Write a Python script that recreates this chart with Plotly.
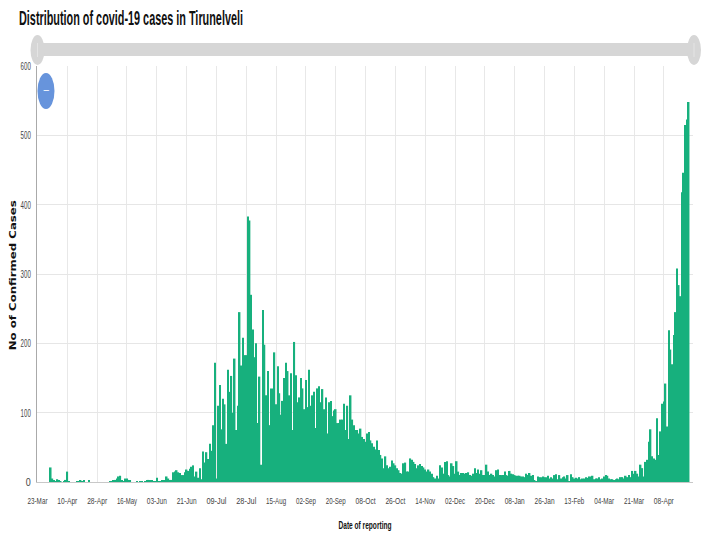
import plotly.graph_objects as go

TITLE = "Distribution of covid-19 cases in Tirunelveli"
X_TITLE = "Date of reporting"
Y_TITLE = "No of Confirmed Cases"
tick_labels = ["23-Mar","10-Apr","28-Apr","16-May","03-Jun","21-Jun","09-Jul","28-Jul","15-Aug","02-Sep","20-Sep",
               "08-Oct","26-Oct","14-Nov","02-Dec","20-Dec","08-Jan","26-Jan","13-Feb","04-Mar","21-Mar","08-Apr"]

cases_early = [0,0,0,0,0,0,0,0,21,5,3,1,4,2,1,0,1,3,15,1,0,0,0,0,1,1,2,1,2,0,0,2,0,0,0,0,0,0,0,0,0,0,0,0,
               1,1,2,3,5,8,9,3,1,5,5,3,2,0,0,0,1,0,1,1,0,1,2,3,3,2,1,1,6,1,1,2,2,3,8,5,3,3,14,15,17,14,13,10,10,14,18,16,19,22]
cases_first_wave = [24,8,15,6,20,4,44,28,43,33,55,45,82,172,5,110,140,76,120,112,55,162,130,153,100,178,75,110,245,168,
                    208,183,183,383,377,270,220,180,200,85,152,25,248,198,125,160,82,135,135,187,112,167,128,97,117,150,
                    172,160,125,157,75,202,154,115,122,150,135,105,147,108,162,110,125,130,78,135,138,115,134,105,122,70,
                    115,117,95,103,105,85,85,90,90,113,75,110,62,125,90,82,75,75,70,77,65,62,58,70,72]
cases_decline = [60,56,51,47,60,46,39,34,20,37,24,20,22,31,27,24,20,17,13,12,27,28,15,15,34,32,29,26,20,24,26,23,21,18,
                 15,18,15,12,7,5,9,5,24,21,12,29,30,10,8,
                 27,23,12,30,15,10,13,13,12,13,14,10,9,12,20,13,18,12,17,10,10,25,15,10,12,10,8,17,18,10,10,10,15,10,9,
                 16,12,11,10,9,9,9,8,8,7,12,10,13,9,10,2,1,8,7,7,8,7,7,9,5,7,5,10,11]
cases_trough = [4,10,5,7,8,5,10,1,11,7,5,6,5,7,4,5,5,7,6,8,8,9,4,5,5,7,4,5,8,10,9,5,4,4,3,4,5,4,7,7,5,9,7,10,7,16,12,16]
cases_second_wave = [12,8,25,20,8,29,32,58,76,37,34,32,92,39,73,113,116,142,80,219,191,170,212,245,308,284,268,418,446,515,523,548]

values = cases_early + cases_first_wave + cases_decline + cases_trough + cases_second_wave

PLOT_L, PLOT_R, PLOT_T, PLOT_B = 36.5, 693, 66, 482
W, H = 720, 540
def fx(px): return (px - PLOT_L) / (PLOT_R - PLOT_L)
def fy(py): return (PLOT_B - py) / (PLOT_B - PLOT_T)

fig = go.Figure(go.Bar(x=list(range(len(values))), y=values, marker=dict(color="#17b07d", line_width=0),
                       hoverinfo="y"))

GREY = "#d6d6d6"
shapes = [
    dict(type="rect", xref="paper", yref="paper", x0=fx(36), x1=fx(693), y0=fy(43), y1=fy(56), fillcolor=GREY, line_width=0),
    dict(type="circle", xref="paper", yref="paper", x0=fx(30), x1=fx(44), y0=fy(35), y1=fy(65), fillcolor=GREY, line_width=0),
    dict(type="circle", xref="paper", yref="paper", x0=fx(687), x1=fx(701), y0=fy(35), y1=fy(65), fillcolor=GREY, line_width=0),
    dict(type="line", xref="paper", yref="paper", x0=fx(37), x1=fx(37), y0=fy(43), y1=fy(57), line=dict(color="#e4e4e4", width=1)),
    dict(type="line", xref="paper", yref="paper", x0=fx(694), x1=fx(694), y0=fy(43), y1=fy(57), line=dict(color="#e4e4e4", width=1)),
    dict(type="circle", xref="paper", yref="paper", x0=fx(37), x1=fx(54), y0=fy(73), y1=fy(109), fillcolor="#6794dc", line_width=0),
]
annotations = [
    dict(text="\u2212", xref="paper", yref="paper", x=fx(45.5), y=fy(90.5), xanchor="center", yanchor="middle", showarrow=False,
         font=dict(family="Liberation Sans", size=11, color="white")),
    dict(text=Y_TITLE, xref="paper", yref="paper", x=fx(12), y=fy(275), xanchor="center", yanchor="middle", showarrow=False,
         textangle=-90, font=dict(family="DejaVu Sans", size=8.5, color="#111111", weight="bold")),
]

fig.update_layout(
    width=W, height=H, autosize=False,
    paper_bgcolor="white", plot_bgcolor="white", showlegend=False, bargap=0.08,
    margin=dict(l=PLOT_L, r=W - PLOT_R, t=PLOT_T, b=H - PLOT_B, pad=0, autoexpand=False),
    title=dict(text=TITLE, x=19 / W, xanchor="left", y=1 - 18 / H, yanchor="middle",
               font=dict(family="Liberation Sans", size=21, color="#111111", weight="bold")),
    shapes=shapes, annotations=annotations,
    xaxis=dict(range=[-0.3, 395.6], tickmode="array", tickvals=[i * 18 for i in range(len(tick_labels))],
               ticktext=tick_labels, tickfont=dict(family="Liberation Sans", size=9.4, color="#444444"),
               showgrid=True, gridcolor="#e8e8e8", gridwidth=1, zeroline=False, automargin=False,
               showline=True, linecolor="#c8c8c8", linewidth=1, ticks="", ticklabelstandoff=10, tickangle=0,
               title=dict(text=X_TITLE, font=dict(family="Liberation Sans", size=10, color="#111111", weight="bold"), standoff=16)),
    yaxis=dict(range=[0, 600], tickvals=[0, 100, 200, 300, 400, 500, 600],
               tickfont=dict(family="Liberation Sans", size=11, color="#444444"),
               showgrid=True, gridcolor="#e6e6e6", gridwidth=1, zeroline=False, automargin=False,
               showline=True, linecolor="#aaaaaa", linewidth=1, ticks="", ticklabelstandoff=3),
)

# The reference's lettering is horizontally squeezed; no condensed font is installed, so fit the real text to its widths.
squeeze = """
document.body.style.margin = '0';
var gd = document.querySelector('.plotly-graph-div');
function fit(sel, len) {
  gd.querySelectorAll(sel).forEach(function (t) {
    t.setAttribute('textLength', len);
    t.setAttribute('lengthAdjust', 'spacingAndGlyphs');
  });
}
fit('.xtick text', 20);
gd.querySelectorAll('.ytick text').forEach(function (t) {
  t.setAttribute('textLength', Math.max(3.4 * t.textContent.length, 5));
  t.setAttribute('lengthAdjust', 'spacingAndGlyphs');
});
fit('.g-gtitle text', 224);
fit('.g-xtitle text', 53);
gd.querySelectorAll('.annotation text').forEach(function (t) {
  if (t.textContent.length > 1) {
    t.setAttribute('textLength', 150);
    t.setAttribute('lengthAdjust', 'spacingAndGlyphs');
  }
});
"""
fig.write_html("out.html", post_script=squeeze, config={"displayModeBar": False})
